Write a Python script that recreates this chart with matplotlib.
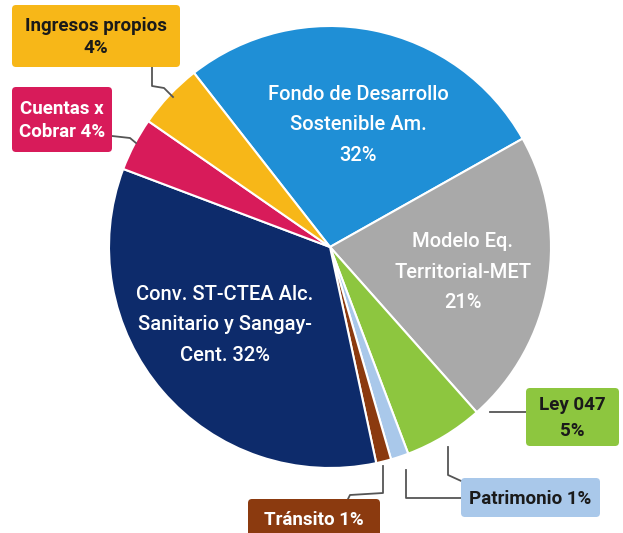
import matplotlib.pyplot as plt
from matplotlib.patches import FancyBboxPatch

plt.rcParams['font.family'] = ['Roboto', 'DejaVu Sans']

# datos (orden horario desde arriba)
names = ['Fondo de Desarrollo\nSostenible Am.', 'Modelo Eq.\nTerritorial-MET', 'Ley 047',
         'Patrimonio', 'Tránsito', 'Conv. ST-CTEA Alc.\nSanitario y Sangay-\nCent.',
         'Cuentas x\nCobrar', 'Ingresos propios']
shares = [27.4, 21.6, 5.8, 1.3, 1.1, 34.1, 3.9, 4.8]   # tamaño dibujado de cada porción
pct = ['32%', '21%', '5%', '1%', '1%', '32%', '4%', '4%']  # texto de la etiqueta
colors = ['#1f8fd6', '#a9a9a9', '#8dc63f', '#a9c8ea', '#8b3a0f', '#0d2b6b', '#d81b5a', '#f7b718']

fig = plt.figure(figsize=(6.23, 5.33), dpi=100)
ax = fig.add_axes([0, 0, 1, 1])
ax.pie(shares, colors=colors, startangle=-128, counterclock=True,
       center=(330, 247), radius=221,
       wedgeprops=dict(edgecolor='white', linewidth=1.5))
ax.set_xlim(0, 623)
ax.set_ylim(533, 0)
ax.set_aspect('equal')
ax.axis('off')

# etiquetas dentro del pastel
inside = {0: (358, 125), 1: (463, 272), 5: (225, 325)}
for i, (x, y) in inside.items():
    if i == 5:
        txt = names[i] + ' ' + pct[i]
    else:
        txt = names[i] + '\n' + pct[i]
    ax.text(x, y, txt, ha='center', va='center', color='white', fontsize=14.5,
            fontweight='medium', linespacing=1.78)

# cajas externas: indice -> (x0, y0, ancho, alto, color texto, texto, interlineado)
boxes = {
    7: (12, 5, 168, 62, '#1a1a1a', names[7] + '\n' + pct[7], 1.3),
    6: (12, 87, 100, 65, 'white', names[6] + ' ' + pct[6], 1.3),
    2: (526, 388, 93, 58, '#1a1a1a', names[2] + '\n' + pct[2], 1.5),
    3: (461, 478, 139, 39, '#1a1a1a', names[3] + ' ' + pct[3], 1.3),
    4: (248, 499, 132, 40, 'white', names[4] + ' ' + pct[4], 1.3),
}
for i, (x0, y0, w, h, tc, txt, ls) in boxes.items():
    ax.add_patch(FancyBboxPatch((x0, y0), w, h, boxstyle='round,pad=0,rounding_size=4',
                                facecolor=colors[i], edgecolor='none', zorder=3))
    ax.text(x0 + w / 2, y0 + h / 2 + 1, txt, ha='center', va='center', color=tc,
            fontsize=13.5, fontweight='bold', linespacing=ls, zorder=4)

# lineas guia
leaders = [
    ([152, 152, 164, 173], [67, 86, 88, 97]),
    ([112, 130, 136], [136, 138, 143]),
    ([490, 526], [412, 412]),
    ([448, 448, 470], [447, 475, 485]),
    ([406, 406, 461], [470, 498, 498]),
    ([383, 383, 350, 348], [466, 493, 495, 499]),
]
for xs, ys in leaders:
    ax.plot(xs, ys, color='#555555', lw=1.3, zorder=2)

fig.savefig('out.png', dpi=100)
